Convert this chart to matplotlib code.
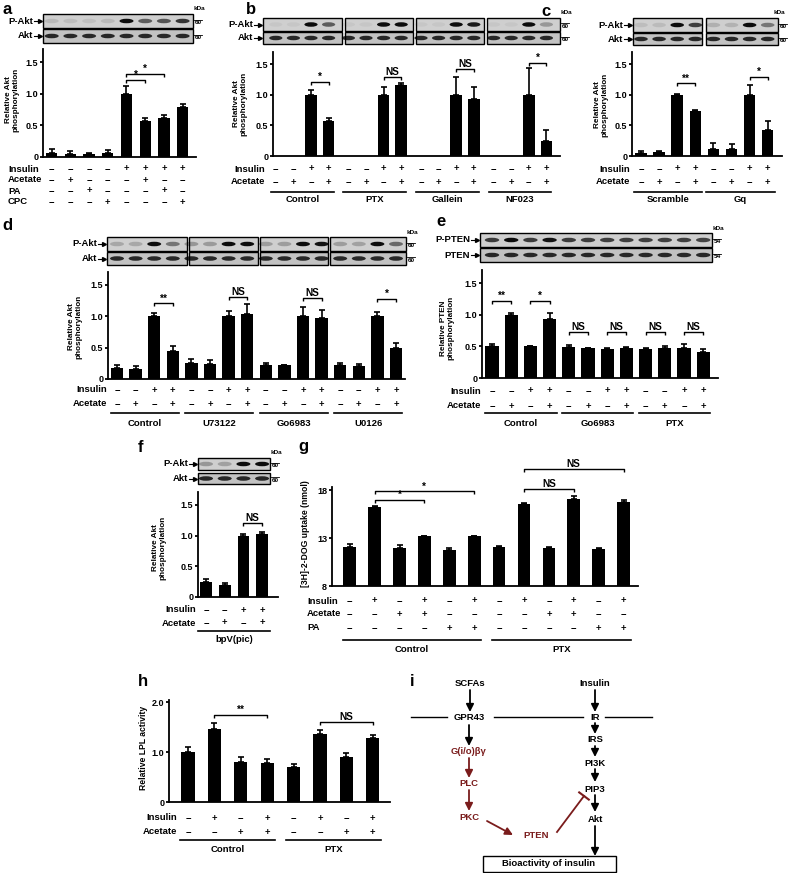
import matplotlib
matplotlib.use('Agg')
import matplotlib.pyplot as plt
from matplotlib.patches import Rectangle, Ellipse
from matplotlib.transforms import blended_transform_factory as blend
import numpy as np

plt.rcParams['font.family'] = ['Liberation Sans', 'DejaVu Sans']
plt.rcParams['font.weight'] = 'bold'
FS = 6.8
FS_TICK = 6.5
FS_YLAB = 5.9

# ---------------- data ----------------
a_insulin = ['-', '-', '-', '-', '+', '+', '+', '+']
a_acetate = ['-', '+', '-', '-', '-', '+', '-', '-']
a_pa = ['-', '-', '+', '-', '-', '-', '+', '-']
a_cpc = ['-', '-', '-', '+', '-', '-', '-', '+']
a_values = [0.07, 0.05, 0.04, 0.07, 1.00, 0.57, 0.62, 0.79]
a_errors = [0.05, 0.05, 0.03, 0.04, 0.12, 0.05, 0.05, 0.05]

pair_insulin = ['-', '-', '+', '+']
pair_acetate = ['-', '+', '-', '+']

b_groups = ['Control', 'PTX', 'Gallein', 'NF023']
b_values = [[0, 0, 1.00, 0.57], [0, 0, 1.00, 1.16], [0, 0, 1.00, 0.93], [0, 0, 1.00, 0.25]]
b_errors = [[0, 0, 0.08, 0.06], [0, 0, 0.13, 0.03], [0, 0, 0.30, 0.20], [0, 0, 0.44, 0.18]]
b_sig = ['*', 'NS', 'NS', '*']
b_sig_y = [1.21, 1.29, 1.43, 1.52]

c_groups = ['Scramble', 'Gq']
c_values = [[0.05, 0.06, 1.00, 0.73], [0.12, 0.11, 1.00, 0.43]]
c_errors = [[0.04, 0.03, 0.02, 0.03], [0.10, 0.08, 0.16, 0.14]]
c_sig = ['**', '*']
c_sig_y = [1.19, 1.29]

d_groups = ['Control', 'U73122', 'Go6983', 'U0126']
d_values = [[0.17, 0.16, 1.00, 0.44], [0.26, 0.24, 1.00, 1.03],
            [0.22, 0.22, 1.00, 0.97], [0.22, 0.20, 1.00, 0.50]]
d_errors = [[0.06, 0.05, 0.04, 0.08], [0.05, 0.06, 0.08, 0.16],
            [0.04, 0.01, 0.15, 0.13], [0.04, 0.04, 0.06, 0.07]]
d_sig = ['**', 'NS', 'NS', '*']
d_sig_y = [1.20, 1.30, 1.28, 1.27]

e_groups = ['Control', 'Go6983', 'PTX']
e_values = [[0.50, 1.00, 0.50, 0.93], [0.49, 0.47, 0.46, 0.47], [0.46, 0.47, 0.47, 0.41]]
e_errors = [[0.04, 0.02, 0.01, 0.09], [0.03, 0.01, 0.01, 0.02], [0.01, 0.04, 0.07, 0.05]]
e_sig = ['**', '*', 'NS', 'NS', 'NS', 'NS']
e_sig_y = [1.22, 1.22, 0.73, 0.73, 0.73, 0.73]

f_group = 'bpV(pic)'
f_values = [0.25, 0.20, 1.00, 1.02]
f_errors = [0.05, 0.02, 0.03, 0.03]

g_groups = ['Control', 'PTX']
g_insulin = ['-', '+', '-', '+', '-', '+']
g_acetate = ['-', '-', '+', '+', '-', '-']
g_pa = ['-', '-', '-', '-', '+', '+']
g_values = [[12.1, 16.2, 12.0, 13.2, 11.7, 13.2], [12.1, 16.5, 12.0, 17.1, 11.9, 16.7]]
g_errors = [[0.25, 0.10, 0.25, 0.05, 0.25, 0.05], [0.05, 0.10, 0.10, 0.30, 0.10, 0.30]]

h_groups = ['Control', 'PTX']
h_insulin = ['-', '+', '-', '+']
h_acetate = ['-', '-', '+', '+']
h_values = [[1.00, 1.46, 0.81, 0.78], [0.71, 1.36, 0.90, 1.28]]
h_errors = [[0.10, 0.12, 0.10, 0.08], [0.06, 0.08, 0.09, 0.06]]

# ---------------- figure ----------------
W, H = 788, 873
fig = plt.figure(figsize=(W / 100, H / 100), dpi=100)
ov = fig.add_axes([0, 0, 1, 1], zorder=0)
ov.set_xlim(0, W)
ov.set_ylim(H, 0)
ov.axis('off')
RED = '#7a1c1c'
MINUS = '\u2212'


def panel(x0, x1, ybot, ppu, ylo, yhi, c0, s, ticks, ticklabels):
    top = ybot - (yhi - ylo) * ppu
    ax = fig.add_axes([x0 / W, 1 - ybot / H, (x1 - x0) / W, (ybot - top) / H], zorder=2)
    ax.patch.set_alpha(0)
    ax.set_xlim((x0 - c0) / s, (x1 - c0) / s)
    ax.set_ylim(ylo, yhi)
    for sp in ['top', 'right']:
        ax.spines[sp].set_visible(False)
    for sp in ['left', 'bottom']:
        ax.spines[sp].set_linewidth(1.3)
    ax.tick_params(axis='x', bottom=False, labelbottom=False)
    ax.tick_params(axis='y', length=2.5, width=1.3, pad=1, labelsize=FS_TICK)
    ax.set_yticks(ticks)
    ax.set_yticklabels(ticklabels)
    ax._ppu = ppu
    ax._s = s
    ax._bt = blend(ax.transData, ov.transData)
    return ax


def bars(ax, pos, vals, errs, width):
    pos = np.asarray(pos, float)
    vals = np.asarray(vals, float)
    errs = np.asarray(errs, float)
    ax.bar(pos, vals, width=width, color='k', zorder=2)
    m = errs > 0
    ax.errorbar(pos[m], vals[m], yerr=[np.zeros(m.sum()), errs[m]], fmt='none',
                ecolor='k', elinewidth=1.2, capsize=2.3, capthick=1.2, zorder=3, clip_on=False)


def bracket(ax, p0, p1, y, label, tickpx=3.0, gappx=2.0, fs=FS + 0.4):
    t = tickpx / ax._ppu
    ax.plot([p0, p0, p1, p1], [y - t, y, y, y - t], color='k', lw=1.0, clip_on=False,
            solid_capstyle='butt')
    ax.text((p0 + p1) / 2, y + gappx / ax._ppu, label, ha='center', va='baseline',
            fontsize=fs, clip_on=False)


def rows(ax, pos, rowsyms, ys, names, label_x, ha):
    for name, syms, y in zip(names, rowsyms, ys):
        ov.text(label_x, y, name, ha=ha, va='center', fontsize=FS)
        for p, sy in zip(pos, syms):
            ax.text(p, y, '+' if sy == '+' else MINUS, transform=ax._bt, ha='center',
                    va='center', fontsize=FS, clip_on=False)


def group(ax, p0, p1, yline, ylab, label, extpx=7):
    e = extpx / ax._s
    ax.plot([p0 - e, p1 + e], [yline, yline], transform=ax._bt, color='k', lw=1.2,
            clip_on=False)
    ax.text((p0 + p1) / 2, ylab, label, transform=ax._bt, ha='center', va='center',
            fontsize=FS, clip_on=False)


def ylabel(x, y, text):
    ov.text(x, y, text, rotation=90, ha='center', va='center', fontsize=FS_YLAB,
            linespacing=1.0)


def blot(ax, pos, top_vals, boxes, y0, y1, y2, y3, names=('P-Akt', 'Akt'), kda='60',
         kda_x=None):
    # boxes: list of (xl, xr) pixels; rows y0-y1 and y2-y3
    for (xl, xr) in boxes:
        ov.add_patch(Rectangle((xl, y0), xr - xl, y1 - y0, facecolor='#cfcfcf',
                               edgecolor='k', lw=1.0))
        ov.add_patch(Rectangle((xl, y2), xr - xl, y3 - y2, facecolor='#c2c2c2',
                               edgecolor='k', lw=1.0))
    ym0 = (y0 + y1) / 2
    ym1 = (y2 + y3) / 2
    for p, v in zip(pos, top_vals):
        inten = 0.04 + 0.9 * min(v, 1.0)
        ax.add_patch(Ellipse((p, ym0), 0.75, 4.5, transform=ax._bt, facecolor='k',
                             alpha=inten, edgecolor='none', clip_on=False))
        ax.add_patch(Ellipse((p, ym1), 0.75, 4.5, transform=ax._bt, facecolor='k',
                             alpha=0.8, edgecolor='none', clip_on=False))
    xl0 = boxes[0][0]
    xr1 = boxes[-1][1]
    for nm, ym in zip(names, (ym0, ym1)):
        ov.text(xl0 - 10, ym, nm, ha='right', va='center', fontsize=FS)
        ov.plot([xl0 - 9, xl0 - 3], [ym, ym], color='k', lw=0.8)
        ov.plot([xl0 - 3], [ym], marker='>', ms=2.8, color='k', mec='k')
        ov.plot([xr1 + 1, xr1 + 9], [ym - 1.5, ym - 1.5], color='k', lw=0.6)
        ov.text(xr1 + 2, ym - 1, kda, ha='left', va='top', fontsize=4.6)
    if kda_x is None:
        kda_x = xr1 + 6
    ov.text(kda_x, y0 - 5, 'kDa', ha='center', va='center', fontsize=4.6)


def letter(x, y, t):
    ov.text(x, y, t, ha='center', va='center', fontsize=12, fontweight='bold')


AKT_TICKS = ([0, 0.5, 1.0, 1.5], ['0', '0.5', '1.0', '1.5'])
AKT_LABEL = 'Relative Akt\nphosphorylation'

# ---------------- panel a ----------------
letter(7, 9, 'a')
axa = panel(43, 196, 157, 63.3, 0, 1.7, 51.7, 18.7, *AKT_TICKS)
pa_pos = np.arange(len(a_values))
bars(axa, pa_pos, a_values, a_errors, 0.6)
bracket(axa, 4, 5, 1.22, '*')
bracket(axa, 4, 6, 1.31, '*')
rows(axa, pa_pos, [a_insulin, a_acetate, a_pa, a_cpc], [169, 180, 191, 202],
     ['Insulin', 'Acetate', 'PA', 'CPC'], 8, 'left')
ylabel(12, 100, AKT_LABEL)
blot(axa, pa_pos, a_values, [(43, 193)], 14, 28, 29, 43)

# ---------------- panel b ----------------
letter(251, 9, 'b')
axb = panel(273, 560, 156, 61, 0, 1.7, 275.8, 17.6, *AKT_TICKS)
b_pos = []
for gi, (vals, errs) in enumerate(zip(b_values, b_errors)):
    p = np.arange(4) + gi * 4.125
    b_pos.extend(p)
    bars(axb, p, vals, errs, 0.65)
    bracket(axb, p[2], p[3], b_sig_y[gi], b_sig[gi])
    group(axb, p[0], p[3], 192, 200, b_groups[gi], extpx=5)
rows(axb, b_pos, [pair_insulin * 4, pair_acetate * 4], [169, 182], ['Insulin', 'Acetate'],
     265, 'right')
ylabel(240, 104, AKT_LABEL)
blot(axb, b_pos, sum(b_values, []), [(263, 342), (345, 413), (416, 484), (487, 560)],
     18, 31, 32, 44)

# ---------------- panel c ----------------
letter(546, 11, 'c')
axc = panel(632, 782, 156, 61, 0, 1.7, 641, 18.1, *AKT_TICKS)
c_pos = []
for gi, (vals, errs) in enumerate(zip(c_values, c_errors)):
    p = np.arange(4) + gi * 4
    c_pos.extend(p)
    bars(axc, p, vals, errs, 0.63)
    bracket(axc, p[2], p[3], c_sig_y[gi], c_sig[gi])
    group(axc, p[0], p[3], 192, 200, c_groups[gi], extpx=7)
rows(axc, c_pos, [pair_insulin * 2, pair_acetate * 2], [169, 182], ['Insulin', 'Acetate'],
     630, 'right')
ylabel(601, 105, AKT_LABEL)
blot(axc, c_pos, sum(c_values, []), [(633, 702), (706, 778)], 18, 32, 33, 45, kda_x=779)

# ---------------- panel d ----------------
letter(7, 225, 'd')
axd = panel(108, 405, 379, 63, 0, 1.7, 117, 18.6, *AKT_TICKS)
d_pos = []
for gi, (vals, errs) in enumerate(zip(d_values, d_errors)):
    p = np.arange(4) + gi * 4
    d_pos.extend(p)
    bars(axd, p, vals, errs, 0.67)
    bracket(axd, p[2], p[3], d_sig_y[gi], d_sig[gi])
    group(axd, p[0], p[3], 413, 423, d_groups[gi], extpx=6)
rows(axd, d_pos, [pair_insulin * 4, pair_acetate * 4], [390, 404], ['Insulin', 'Acetate'],
     107, 'right')
ylabel(75, 327, AKT_LABEL)
blot(axd, d_pos, sum(d_values, []), [(107, 187), (189, 258), (260, 328), (330, 406)],
     237, 251, 252, 265)

# ---------------- panel e ----------------
letter(441, 222, 'e')
axe = panel(482, 718, 378, 63.3, 0, 1.7, 492, 19.2, *AKT_TICKS)
e_pos = []
for gi, (vals, errs) in enumerate(zip(e_values, e_errors)):
    p = np.arange(4) + gi * 4
    e_pos.extend(p)
    bars(axe, p, vals, errs, 0.68)
    group(axe, p[0], p[3], 413, 423, e_groups[gi], extpx=7)
for k in range(6):
    bracket(axe, e_pos[2 * k], e_pos[2 * k + 1], e_sig_y[k], e_sig[k])
rows(axe, e_pos, [pair_insulin * 3, pair_acetate * 3], [391, 406], ['Insulin', 'Acetate'],
     481, 'right')
ylabel(447, 328, 'Relative PTEN\nphosphorylation')
blot(axe, e_pos, [0.5 + 0.5 * v for v in sum(e_values, [])], [(480, 712)],
     233, 247, 248, 262, names=('P-PTEN', 'PTEN'), kda='54')

# ---------------- panel f ----------------
letter(141, 447, 'f')
axf = panel(198, 278, 597, 61.5, 0, 1.7, 206, 18.7, *AKT_TICKS)
f_pos = np.arange(4)
bars(axf, f_pos, f_values, f_errors, 0.63)
bracket(axf, 2, 3, 1.20, 'NS')
group(axf, 0, 3, 631, 640, f_group, extpx=8)
rows(axf, f_pos, [pair_insulin, pair_acetate], [610, 623], ['Insulin', 'Acetate'], 196, 'right')
ylabel(159, 548, AKT_LABEL)
blot(axf, f_pos, f_values, [(198, 270)], 458, 470, 473, 484)

# ---------------- panel g ----------------
letter(303, 447, 'g')
axg = panel(332, 638, 586, 9.6, 8, 18.3, 349.7, 24.9, [8, 13, 18], ['8', '13', '18'])
g_pos = []
for gi, (vals, errs) in enumerate(zip(g_values, g_errors)):
    p = np.arange(6) + gi * 6
    g_pos.extend(p)
    bars(axg, p, vals, errs, 0.51)
    group(axg, p[0], p[5], 640, 650, g_groups[gi], extpx=7)
bracket(axg, g_pos[1], g_pos[3], 16.95, '*')
bracket(axg, g_pos[1], g_pos[5], 17.85, '*')
bracket(axg, g_pos[7], g_pos[9], 18.1, 'NS')
bracket(axg, g_pos[7], g_pos[11], 20.2, 'NS')
rows(axg, g_pos, [g_insulin * 2, g_acetate * 2, g_pa * 2], [601, 614, 628],
     ['Insulin', 'Acetate', 'PA'], 307, 'left')
ov.text(306, 534, '[3H]-2-DOG uptake (nmol)', rotation=90, ha='center', va='center',
        fontsize=FS_YLAB + 0.3)

# ---------------- panel h ----------------
letter(143, 681, 'h')
axh = panel(169, 390, 802, 50, 0, 2.04, 188, 26.4, [0, 1.0, 2.0], ['0', '1.0', '2.0'])
h_pos = []
for gi, (vals, errs) in enumerate(zip(h_values, h_errors)):
    p = np.arange(4) + gi * 4
    h_pos.extend(p)
    bars(axh, p, vals, errs, 0.5)
    group(axh, p[0], p[3], 840, 850, h_groups[gi], extpx=8)
bracket(axh, h_pos[1], h_pos[3], 1.74, '**')
bracket(axh, h_pos[5], h_pos[7], 1.60, 'NS')
rows(axh, h_pos, [h_insulin * 2, h_acetate * 2], [818, 832], ['Insulin', 'Acetate'], 177, 'right')
ov.text(144, 748, 'Relative LPL activity', rotation=90, ha='center', va='center',
        fontsize=FS_YLAB + 0.3)

# ---------------- panel i (diagram) ----------------
letter(412, 681, 'i')


def arrow(p0, p1, c='k'):
    ov.annotate('', xy=p1, xytext=p0,
                arrowprops=dict(arrowstyle='-|>,head_length=0.9,head_width=0.45',
                                color=c, lw=1.3, shrinkA=0, shrinkB=0, mutation_scale=5))


def node(x, y, t, c='k'):
    ov.text(x, y, t, ha='center', va='center', fontsize=FS, color=c)


node(470, 683, 'SCFAs')
node(595, 683, 'Insulin')
arrow((470, 690), (470, 712))
arrow((595, 690), (595, 712))
for xa, xb in [(411, 447), (494, 583), (605, 652)]:
    ov.plot([xa, xb], [717, 717], color='k', lw=1.0)
node(469, 718, 'GPR43')
node(595, 718, 'IR')
arrow((469, 725), (469, 746))
node(469, 752, 'G(i/o)\u03b2\u03b3', RED)
arrow((469, 758), (469, 778), RED)
node(469, 784, 'PLC', RED)
arrow((469, 790), (469, 811), RED)
node(469, 817, 'PKC', RED)
arrow((487, 821), (513, 835), RED)
node(536, 836, 'PTEN', RED)
# inhibition PTEN -| PIP3
ov.plot([557, 584], [832, 796], color=RED, lw=1.3)
ov.plot([579.2, 588.8], [792.4, 799.6], color=RED, lw=1.5)
arrow((595, 723), (595, 734))
node(595, 740, 'IRS')
arrow((595, 746), (595, 757))
node(595, 763, 'PI3K')
arrow((595, 769), (595, 782))
node(595, 789, 'PIP3')
arrow((595, 795), (595, 812))
node(595, 819, 'Akt')
arrow((595, 826), (595, 856))
ov.add_patch(Rectangle((483, 856), 133, 16, facecolor='white', edgecolor='k', lw=1.0))
node(549, 864, 'Bioactivity of insulin')

fig.savefig('out.png', dpi=100)
